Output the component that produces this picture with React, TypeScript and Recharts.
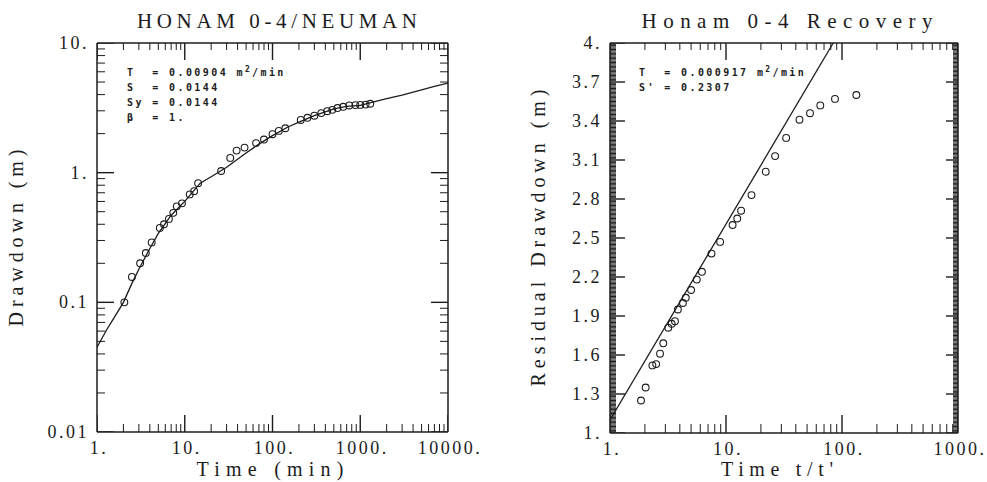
import { ScatterChart, Scatter, XAxis, YAxis } from 'recharts'

const INK = '#1c1c1c'
const SERIF = '"Liberation Serif", "DejaVu Serif", serif'
const MONO = '"DejaVu Sans Mono", "Liberation Mono", monospace'

// Neuman drawdown test: observed points
const drawTime = [2.05, 2.5, 3.1, 3.6, 4.2, 5.2, 5.8, 6.6, 7.4, 8.1, 9.3, 11.4, 12.8, 14.2, 26, 33, 39, 48, 65, 80, 100, 118, 140, 210, 250, 300, 360, 420, 480, 550, 640, 750, 880, 1000, 1150, 1300]
const drawdown = [0.1, 0.157, 0.2, 0.24, 0.29, 0.375, 0.4, 0.44, 0.49, 0.55, 0.58, 0.68, 0.72, 0.83, 1.03, 1.3, 1.48, 1.56, 1.69, 1.8, 1.98, 2.1, 2.2, 2.55, 2.65, 2.75, 2.88, 2.98, 3.05, 3.15, 3.22, 3.3, 3.32, 3.33, 3.35, 3.4]

// fitted type curve
const curveTime = [1, 1.3, 1.6, 2, 2.5, 3, 4, 5, 7, 10, 15, 20, 30, 50, 70, 100, 150, 200, 300, 500, 700, 1000, 1500, 2000, 3000, 5000, 7000, 10000]
const curveDrawdown = [0.045, 0.062, 0.078, 0.1, 0.14, 0.18, 0.26, 0.34, 0.47, 0.6, 0.83, 0.93, 1.1, 1.42, 1.66, 1.93, 2.25, 2.45, 2.75, 3.1, 3.25, 3.3, 3.55, 3.72, 3.97, 4.35, 4.62, 4.9]

// recovery test
const recRatio = [1.85, 2.03, 2.32, 2.5, 2.7, 2.88, 3.18, 3.4, 3.63, 3.85, 4.25, 4.5, 5.0, 5.6, 6.2, 7.5, 8.9, 11.4, 12.5, 13.5, 16.6, 22, 26.5, 33, 43, 53, 65, 87, 133]
const recResidual = [1.25, 1.35, 1.52, 1.53, 1.61, 1.69, 1.81, 1.84, 1.86, 1.95, 2.0, 2.04, 2.1, 2.18, 2.24, 2.38, 2.47, 2.6, 2.65, 2.71, 2.83, 3.01, 3.13, 3.27, 3.41, 3.46, 3.52, 3.57, 3.6]

// Theis recovery straight line
const fitRatio = [1, 84]
const fitResidual = [1.1, 4.0]

const leftXMajor = [1, 10, 100, 1000, 10000]
const leftXLabels = ['1.', '10.', '100.', '1000.', '10000.']
const leftYMajor = [0.01, 0.1, 1, 10]
const leftYLabels = ['0.01', '0.1', '1.', '10.']
const rightXMajor = [1, 10, 100, 1000]
const rightXLabels = ['1.', '10.', '100.', '1000.']
const rightYMajor = [1, 1.3, 1.6, 1.9, 2.2, 2.5, 2.8, 3.1, 3.4, 3.7, 4]
const rightYLabels = ['1.', '1.3', '1.6', '1.9', '2.2', '2.5', '2.8', '3.1', '3.4', '3.7', '4.']

const drawData = drawTime.map((t, i) => ({ t, s: drawdown[i] }))
const curveData = curveTime.map((t, i) => ({ t, s: curveDrawdown[i] }))
const recData = recRatio.map((t, i) => ({ t, s: recResidual[i] }))
const fitData = fitRatio.map((t, i) => ({ t, s: fitResidual[i] }))

function logTicks(majors: number[]) {
  const out: number[] = []
  majors.forEach((m, i) => {
    out.push(m)
    if (i < majors.length - 1) {
      for (let k = 2; k <= 9; k++) out.push(+(m * k).toPrecision(3))
    }
  })
  return out
}

const fineTicks = Array.from({ length: 301 }, (_, i) => +(1 + i / 100).toFixed(2))

const isMajor = (majors: number[], v: number) => majors.some((m) => Math.abs(m - v) < 1e-6)

// tick marks placed on the frame edges through the chart scales
function edgeMarks(values: number[], majors: number[], along: 'x' | 'y', at: number) {
  return values.map((v) => (along === 'x'
    ? { t: v, s: at, major: isMajor(majors, v) }
    : { t: at, s: v, major: isMajor(majors, v) }))
}

type Side = 'bottom' | 'top' | 'left' | 'right'

function markShape(side: Side, majorLen: number, minorLen: number) {
  return (p: any) => {
    const major = p.payload ? p.payload.major : p.major
    const len = major ? majorLen : minorLen
    const x = p.cx
    const y = p.cy
    let d
    if (side === 'bottom') d = `M${x},${y}V${y - len}`
    else if (side === 'top') d = `M${x},${y}V${y + len}`
    else if (side === 'left') d = `M${x},${y}H${x + len}`
    else d = `M${x},${y}H${x - len}`
    return <path d={d} stroke={INK} strokeWidth={major ? 1.4 : 1} fill="none" />
  }
}

function labelTick(side: 'bottom' | 'left', majors: number[], labels: string[]) {
  return (props: any) => {
    const x = Number(props.x)
    const y = Number(props.y)
    const idx = majors.findIndex((m) => Math.abs(m - Number(props.payload.value)) < 1e-6)
    if (idx < 0) return <g />
    const st = { fill: INK, stroke: 'none', fontFamily: SERIF, fontSize: 18, letterSpacing: 2.5 }
    return side === 'bottom'
      ? <text x={x + 2} y={y + 22} textAnchor="middle" {...st}>{labels[idx]}</text>
      : <text x={x - 8} y={y + 6} textAnchor="end" {...st}>{labels[idx]}</text>
  }
}

const ring = (p: any) => <circle cx={p.cx} cy={p.cy} r={3.4} fill="none" stroke={INK} strokeWidth={1.1} />
const noShape = () => <g />
const axisLine = { stroke: INK, strokeWidth: 1.5 }
const common = { tickSize: 0, tickMargin: 0, tickLine: false, interval: 0 as const, axisLine, allowDataOverflow: true }

function Annot({ x, rows }: { x: number; rows: { name: string; value: string; unit?: boolean; y: number }[] }) {
  return (
    <g fontFamily={MONO} fontWeight="bold" fontSize={10} letterSpacing={2.4} fill={INK}>
      {rows.map((r) => (
        <text key={r.name} x={x} y={r.y} style={{ whiteSpace: 'pre' }}>
          {r.name + '= ' + r.value}
          {r.unit && (
            <>
              <tspan> m</tspan>
              <tspan dy={-4} fontSize={8}>2</tspan>
              <tspan dy={4}>/min</tspan>
            </>
          )}
        </text>
      ))}
    </g>
  )
}

export default function App() {
  const lxTicks = logTicks(leftXMajor)
  const lyTicks = logTicks(leftYMajor)
  const rxTicks = logTicks(rightXMajor)

  const lMarks = {
    bottom: edgeMarks(lxTicks, leftXMajor, 'x', 0.01),
    top: edgeMarks(lxTicks, leftXMajor, 'x', 10),
    left: edgeMarks(lyTicks, leftYMajor, 'y', 1),
    right: edgeMarks(lyTicks, leftYMajor, 'y', 10000),
  }
  const rMarks = {
    bottom: edgeMarks(rxTicks, rightXMajor, 'x', 1),
    top: edgeMarks(rxTicks, rightXMajor, 'x', 4),
    left: edgeMarks(fineTicks, rightYMajor, 'y', 1),
    right: edgeMarks(fineTicks, rightYMajor, 'y', 1000),
  }

  return (
    <div style={{ position: 'absolute', left: 0, top: 0, width: 987, height: 482, background: '#fff' }}>
      <svg width={987} height={482} style={{ position: 'absolute', left: 0, top: 0 }}>
        <g fontFamily={SERIF} fill={INK} fontSize={20}>
          <text x={277} y={28} fontSize={21} textAnchor="middle" textLength={280} lengthAdjust="spacing">HONAM 0-4/NEUMAN</text>
          <text x={787} y={28} fontSize={21} textAnchor="middle" textLength={291} lengthAdjust="spacing">Honam 0-4 Recovery</text>
          <text x={270} y={476} textAnchor="middle" textLength={147} lengthAdjust="spacing">Time (min)</text>
          <text x={777} y={476} textAnchor="middle" textLength={112} lengthAdjust="spacing">Time t/t'</text>
          <text transform="translate(23,238) rotate(-90)" textAnchor="middle" textLength={177} lengthAdjust="spacing">Drawdown (m)</text>
          <text transform="translate(545,238) rotate(-90)" textAnchor="middle" textLength={297} lengthAdjust="spacing">Residual Drawdown (m)</text>
        </g>
        <Annot x={127} rows={[
          { name: 'T  ', value: '0.00904', unit: true, y: 76 },
          { name: 'S  ', value: '0.0144', y: 91 },
          { name: 'Sy ', value: '0.0144', y: 106 },
          { name: 'β  ', value: '1.', y: 121 },
        ]} />
        <Annot x={639} rows={[
          { name: 'T  ', value: '0.000917', unit: true, y: 76 },
          { name: "S' ", value: '0.2307', y: 91 },
        ]} />
      </svg>
      <div style={{ position: 'absolute', left: 0, top: 0 }}>
        <ScatterChart width={490} height={482} margin={{ top: 23, right: 22, bottom: 20, left: 37 }}>
          <XAxis xAxisId="nb" dataKey="t" type="number" scale="log" domain={[1, 10000]} ticks={leftXMajor} height={30}
            tick={labelTick('bottom', leftXMajor, leftXLabels)} {...common} />
          <XAxis xAxisId="nt" orientation="top" dataKey="t" type="number" scale="log" domain={[1, 10000]} ticks={leftXMajor} height={20}
            tick={false} {...common} />
          <YAxis yAxisId="nl" dataKey="s" type="number" scale="log" domain={[0.01, 10]} ticks={leftYMajor} width={60}
            tick={labelTick('left', leftYMajor, leftYLabels)} {...common} />
          <YAxis yAxisId="nr" orientation="right" dataKey="s" type="number" scale="log" domain={[0.01, 10]} ticks={leftYMajor} width={20}
            tick={false} {...common} />
          <Scatter xAxisId="nb" yAxisId="nl" data={lMarks.bottom} shape={markShape('bottom', 17, 8)} isAnimationActive={false} />
          <Scatter xAxisId="nb" yAxisId="nl" data={lMarks.top} shape={markShape('top', 17, 7)} isAnimationActive={false} />
          <Scatter xAxisId="nb" yAxisId="nl" data={lMarks.left} shape={markShape('left', 17, 8)} isAnimationActive={false} />
          <Scatter xAxisId="nb" yAxisId="nl" data={lMarks.right} shape={markShape('right', 17, 8)} isAnimationActive={false} />
          <Scatter xAxisId="nb" yAxisId="nl" data={curveData} line={{ stroke: INK, strokeWidth: 1.3, fill: 'none' }} shape={noShape} isAnimationActive={false} />
          <Scatter xAxisId="nb" yAxisId="nl" data={drawData} shape={ring} isAnimationActive={false} />
        </ScatterChart>
      </div>
      <div style={{ position: 'absolute', left: 490, top: 0 }}>
        <ScatterChart width={497} height={482} margin={{ top: 23, right: 9, bottom: 19, left: 60 }}>
          <XAxis xAxisId="rb" dataKey="t" type="number" scale="log" domain={[1, 1000]} ticks={rightXMajor} height={30}
            tick={labelTick('bottom', rightXMajor, rightXLabels)} {...common} />
          <XAxis xAxisId="rt" orientation="top" dataKey="t" type="number" scale="log" domain={[1, 1000]} ticks={rightXMajor} height={20}
            tick={false} {...common} />
          <YAxis yAxisId="rl" dataKey="s" type="number" domain={[1, 4]} ticks={rightYMajor} width={60}
            tick={labelTick('left', rightYMajor, rightYLabels)} {...common} />
          <YAxis yAxisId="rr" orientation="right" dataKey="s" type="number" domain={[1, 4]} ticks={rightYMajor} width={20}
            tick={false} {...common} />
          <Scatter xAxisId="rb" yAxisId="rl" data={rMarks.bottom} shape={markShape('bottom', 18, 9)} isAnimationActive={false} />
          <Scatter xAxisId="rb" yAxisId="rl" data={rMarks.top} shape={markShape('top', 17, 7)} isAnimationActive={false} />
          <Scatter xAxisId="rb" yAxisId="rl" data={rMarks.left} shape={markShape('left', 15, 6)} isAnimationActive={false} />
          <Scatter xAxisId="rb" yAxisId="rl" data={rMarks.right} shape={markShape('right', 12, 5)} isAnimationActive={false} />
          <Scatter xAxisId="rb" yAxisId="rl" data={fitData} line={{ stroke: INK, strokeWidth: 1.3, fill: 'none' }} shape={noShape} isAnimationActive={false} />
          <Scatter xAxisId="rb" yAxisId="rl" data={recData} shape={ring} isAnimationActive={false} />
        </ScatterChart>
      </div>
    </div>
  )
}
